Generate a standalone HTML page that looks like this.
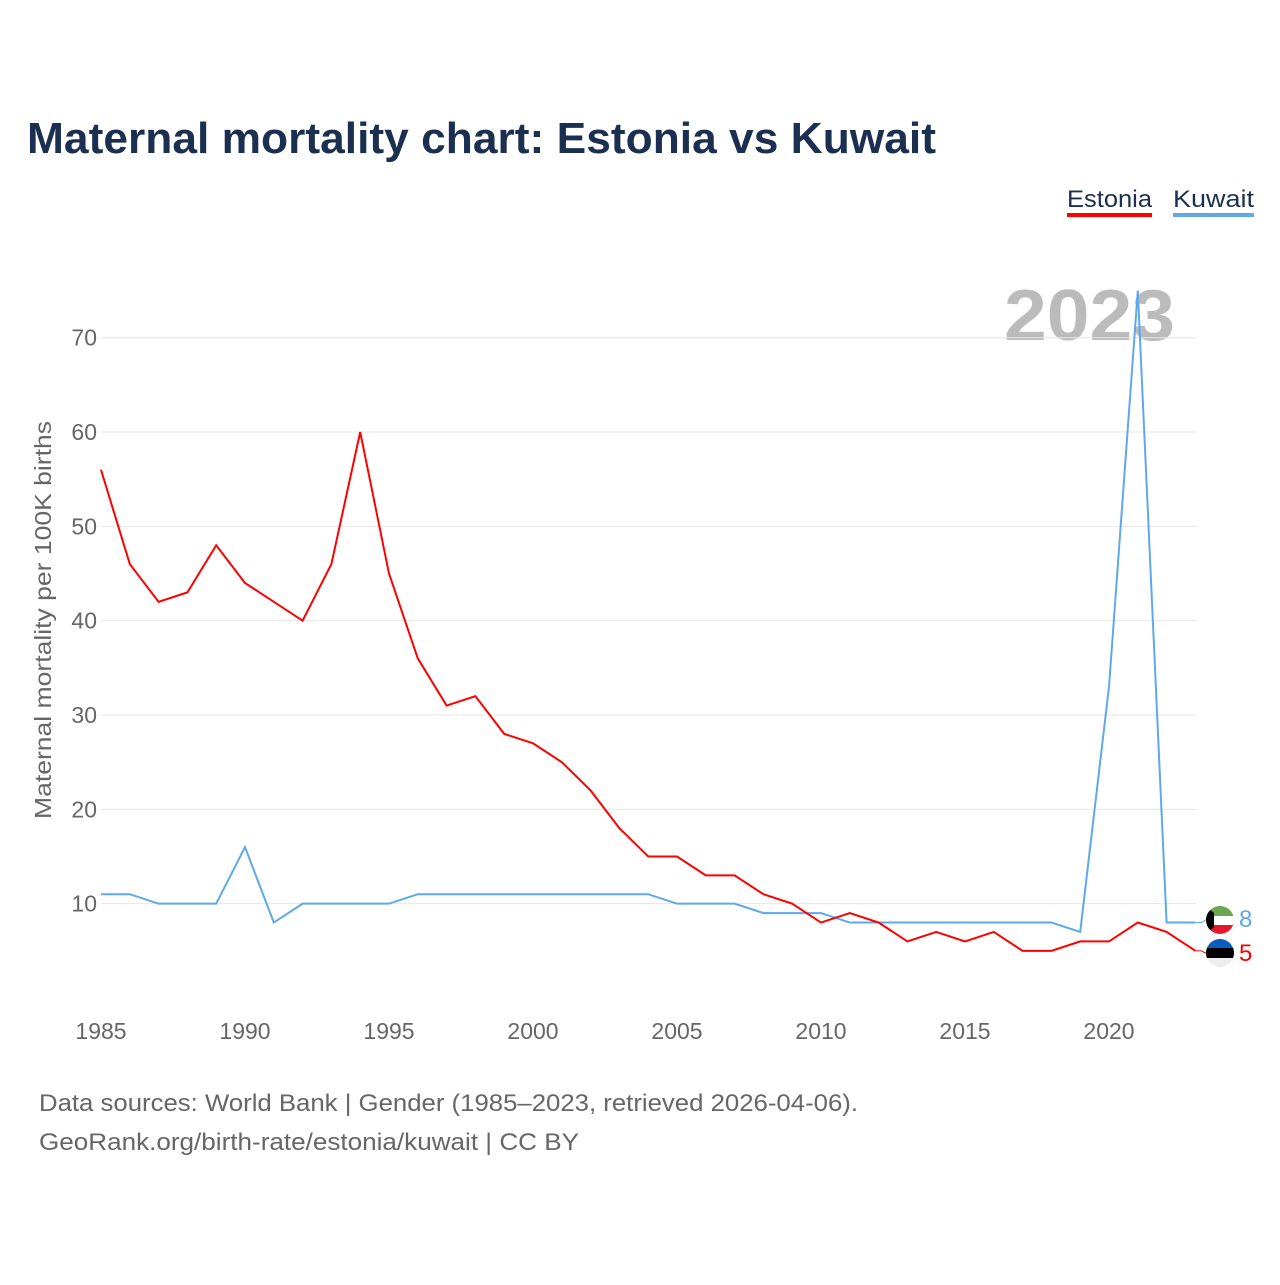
<!DOCTYPE html>
<html><head><meta charset="utf-8"><style>
body{margin:0;background:#fff;font-family:"Liberation Sans",sans-serif}
svg text{font-family:"Liberation Sans",sans-serif}
</style></head><body>
<svg width="1280" height="1280">
<defs>
<clipPath id="ck"><circle cx="1220" cy="920" r="14"/></clipPath>
<clipPath id="ce"><circle cx="1220" cy="953" r="14"/></clipPath>
</defs>
<text x="27" y="153" font-size="44" font-weight="bold" fill="#1b3050" textLength="909" lengthAdjust="spacingAndGlyphs">Maternal mortality chart: Estonia vs Kuwait</text>
<g><text x="1067" y="207" font-size="24" fill="#1b3050" textLength="85" lengthAdjust="spacingAndGlyphs">Estonia</text><rect x="1067" y="213" width="85" height="4" fill="#ff0000"/></g>
<g><text x="1173" y="207" font-size="24" fill="#1b3050" textLength="81" lengthAdjust="spacingAndGlyphs">Kuwait</text><rect x="1173" y="213" width="81" height="4" fill="#5ea8ec"/></g>
<text x="1004" y="340" font-size="72" font-weight="bold" fill="#bbb" textLength="171" lengthAdjust="spacingAndGlyphs">2023</text>
<g id="grid"></g><g id="xt"></g>
<text transform="translate(51,620) rotate(-90)" font-size="23" fill="#666" text-anchor="middle" textLength="398" lengthAdjust="spacingAndGlyphs">Maternal mortality per 100K births</text>
<g id="lines"></g>
<g clip-path="url(#ck)"><rect x="1206" y="906" width="28" height="10" fill="#6aa84f"/><rect x="1206" y="916" width="28" height="9" fill="#fff"/><rect x="1206" y="925" width="28" height="9" fill="#e3172d"/><polygon points="1206,906 1214,913 1214,927 1206,934" fill="#000"/></g>
<g clip-path="url(#ce)"><rect x="1206" y="939" width="28" height="10" fill="#0a5cbf"/><rect x="1206" y="948" width="28" height="10" fill="#000"/><rect x="1206" y="958" width="28" height="10" fill="#eee"/></g>
<text x="1239" y="927" font-size="24" fill="#5ea8ec">8</text>
<text x="1239" y="961" font-size="24" fill="#ff0000">5</text>
<text x="39" y="1111" font-size="24" fill="#666" textLength="819" lengthAdjust="spacingAndGlyphs">Data sources: World Bank | Gender (1985–2023, retrieved 2026-04-06).</text>
<text x="39" y="1150" font-size="24" fill="#666" textLength="540" lengthAdjust="spacingAndGlyphs">GeoRank.org/birth-rate/estonia/kuwait | CC BY</text>
</svg>
<script>
const years=[];for(let y=1985;y<=2023;y++)years.push(y);
const estonia=[56,46,42,43,48,44,42,40,46,60,45,36,31,32,28,27,25,22,18,15,15,13,13,11,10,8,9,8,6,7,6,7,5,5,6,6,8,7,5];
const kuwait=[11,11,10,10,10,16,8,10,10,10,10,11,11,11,11,11,11,11,11,11,10,10,10,9,9,9,8,8,8,8,8,8,8,8,7,33,75,8,8];
const yTicks=[10,20,30,40,50,60,70];
const xTicks=[1985,1990,1995,2000,2005,2010,2015,2020];
const X=y=>101+(y-1985)*28.8, Y=v=>998-v*9.433;
const NS='http://www.w3.org/2000/svg';
function mk(t,a,p){const e=document.createElementNS(NS,t);for(const k in a)e.setAttribute(k,a[k]);p.appendChild(e);return e;}
const g=document.getElementById('grid');
yTicks.forEach(v=>{
 const l=mk('line',{x1:101,x2:1196,y1:Y(v),y2:Y(v),stroke:'#e6e6e6','stroke-width':1},g);
 
 
 const t=mk('text',{x:97,y:Y(v)+8,'font-size':23,fill:'#666','text-anchor':'end'},g);t.textContent=v;
 
 
});
const xt=document.getElementById('xt');
xTicks.forEach(v=>{
 const t=mk('text',{x:X(v),y:1039,'font-size':23,fill:'#666','text-anchor':'middle'},xt);t.textContent=v;
 
 
});
const L=document.getElementById('lines');
[[kuwait,'#5ea8ec','kuwait-line',920],[estonia,'#ff0000','estonia-line',953]].forEach(([d,c,n,fy])=>{
 const pts=d.map((v,i)=>X(years[i])+','+Y(v)).join(' ');
 const p=mk('polyline',{points:pts,fill:'none',stroke:c,'stroke-width':2},L);
 
 
 const lx=X(years[years.length-1]),ly=Y(d[d.length-1]);
 const c2=mk('polyline',{points:`${lx},${ly} ${lx+6},${ly} ${lx+10},${fy} 1206,${fy}`,fill:'none',stroke:c,'stroke-width':1},L);
 
 
});
</script>
</body></html>
